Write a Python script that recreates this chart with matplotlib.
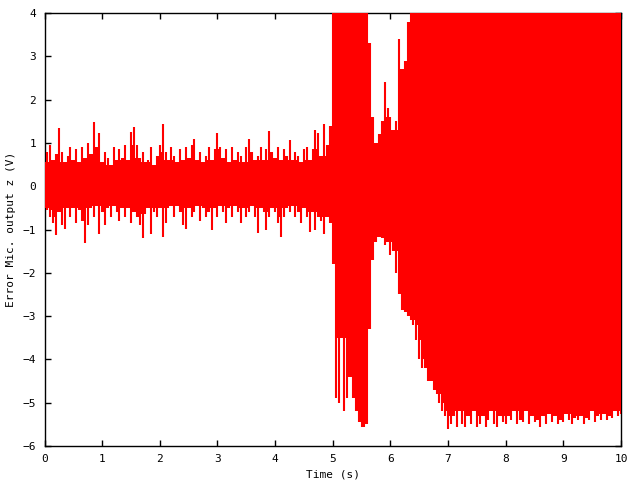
import numpy as np
import matplotlib
matplotlib.use('Agg')
from matplotlib import pyplot as plt

# envelope of the mic error signal, sampled every 0.05 s from t = 0 to 10 s
dt = 0.05

upper_quiet = [0.55, 0.8, 0.95, 0.6, 0.75, 1.34, 0.8, 0.55, 0.7, 0.9,
               0.6, 0.85, 0.55, 0.9, 0.65, 1.0, 0.75, 1.48, 0.9, 1.24,
               0.55, 0.8, 0.65, 0.5, 0.9, 0.6, 0.85, 0.65, 0.95, 0.6,
               1.25, 1.36, 0.95, 0.65, 0.8, 0.55, 0.6, 0.9, 0.5, 0.7,
               0.95, 1.43, 0.8, 0.6, 0.9, 0.7, 0.55, 0.85, 0.6, 0.9,
               0.65, 0.95, 1.1, 0.6, 0.8, 0.55, 0.7, 0.9, 0.6, 0.85,
               1.23, 0.9, 0.65, 0.85, 0.55, 0.9, 0.6, 0.8, 0.7, 0.55,
               0.9, 1.1, 0.8, 0.6, 0.7, 0.9, 0.6, 0.85, 1.28, 0.8,
               0.65, 0.9, 0.6, 0.85, 0.7, 1.06, 0.6, 0.8, 0.7, 0.55,
               0.85, 0.9, 0.6, 0.85, 1.29, 1.22, 0.7, 1.43, 0.95, 1.4]
lower_quiet = [-0.5, -0.55, -0.7, -0.85, -1.13, -0.6, -0.9, -0.98, -0.5, -0.7,
               -0.5, -0.85, -0.55, -0.8, -1.32, -0.9, -0.5, -0.7, -0.45, -1.1,
               -0.6, -0.9, -0.5, -0.7, -0.45, -0.6, -0.8, -0.5, -0.7, -0.5,
               -0.85, -0.6, -0.7, -0.9, -1.2, -0.65, -0.5, -1.1, -0.6, -0.7,
               -0.5, -1.17, -0.85, -0.5, -0.45, -0.7, -0.45, -0.6, -0.9, -0.98,
               -0.5, -0.7, -0.6, -0.45, -0.8, -0.5, -0.7, -0.6, -1.02, -0.5,
               -0.7, -0.45, -0.6, -0.85, -0.5, -0.7, -0.45, -0.6, -0.85, -0.5,
               -0.7, -0.6, -0.45, -0.7, -1.09, -0.5, -0.6, -1.02, -0.7, -0.5,
               -0.6, -0.85, -1.17, -0.7, -0.5, -0.6, -0.45, -0.7, -0.6, -0.85,
               -0.5, -0.7, -1.05, -0.6, -1.02, -0.7, -0.8, -1.1, -0.7, -0.85]

# 5.00 s onwards (values above 4 V are clipped by the plot)
upper_loud = [4.5] * 13 + [3.3, 1.6, 1.0, 1.2, 1.5, 2.4, 1.8, 1.6, 1.3, 1.5,
                           3.4, 2.7, 2.9, 3.8] + [4.5] * 74
lower_loud = [-1.8, -4.9, -5.0, -3.5, -5.2, -4.9, -4.4, -4.9, -5.2, -5.45,
              -5.56, -5.56, -5.5, -3.3, -1.7, -1.3, -1.17, -1.2, -1.35, -1.3,
              -1.6, -1.5, -2.0, -2.5, -2.85, -2.9, -3.0, -3.1, -3.2, -3.55,
              -4.0, -4.2, -4.2, -4.5, -4.5, -4.7, -4.8, -5.0, -5.2, -5.3,
              -5.6,
              -5.5, -5.3, -5.55, -5.2, -5.5, -5.55, -5.3, -5.5, -5.2, -5.55,
              -5.5, -5.3, -5.55, -5.4, -5.2, -5.5, -5.55, -5.3, -5.45, -5.5,
              -5.3, -5.4, -5.2, -5.5, -5.4, -5.45, -5.2, -5.5, -5.3, -5.45,
              -5.4, -5.55, -5.3, -5.5, -5.25, -5.45, -5.3, -5.5, -5.4, -5.45,
              -5.25, -5.4, -5.5, -5.35, -5.4, -5.3, -5.5, -5.35, -5.4, -5.2,
              -5.45, -5.3, -5.4, -5.25, -5.4, -5.3, -5.35, -5.2, -5.3, -5.25]

upper = np.array(upper_quiet + upper_loud)
lower = np.array(lower_quiet + lower_loud)
t = np.arange(len(upper)) * dt

xticks = list(range(0, 11))
yticks = list(range(-6, 5))

# solid core = tightest of neighbouring samples, spikes drawn on top
pad_hi = np.pad(upper, 1, mode='edge')
pad_lo = np.pad(lower, 1, mode='edge')
core_hi = np.minimum(np.minimum(pad_hi[:-2], pad_hi[1:-1]), pad_hi[2:])
core_lo = np.maximum(np.maximum(pad_lo[:-2], pad_lo[1:-1]), pad_lo[2:])

plt.rcParams['font.family'] = ['DejaVu Sans Mono']
fig = plt.figure(figsize=(6.4, 4.8), dpi=100)
ax = fig.add_axes([44.5/640, 34/480, (621-44.5)/640, (446-13)/480])

red = '#ff0000'
ax.fill_between(t, core_lo, core_hi, step='mid', color=red, lw=0, zorder=3)
ax.vlines(t, lower, upper, color=red, lw=1.5, zorder=3)

ax.set_xlim(0, 10)
ax.set_ylim(-6, 4)
ax.set_xticks(xticks)
ax.set_yticks(yticks)
ax.tick_params(direction='in', length=4.5, width=1, top=True, right=True,
               labelsize=8, pad=6, colors='black')
for s in ax.spines.values():
    s.set_linewidth(1)
ax.set_xlabel('Time (s)', fontsize=8, labelpad=4)
ax.set_ylabel('Error Mic. output z (V)', fontsize=8, labelpad=5)

fig.savefig('out.png', dpi=100)
